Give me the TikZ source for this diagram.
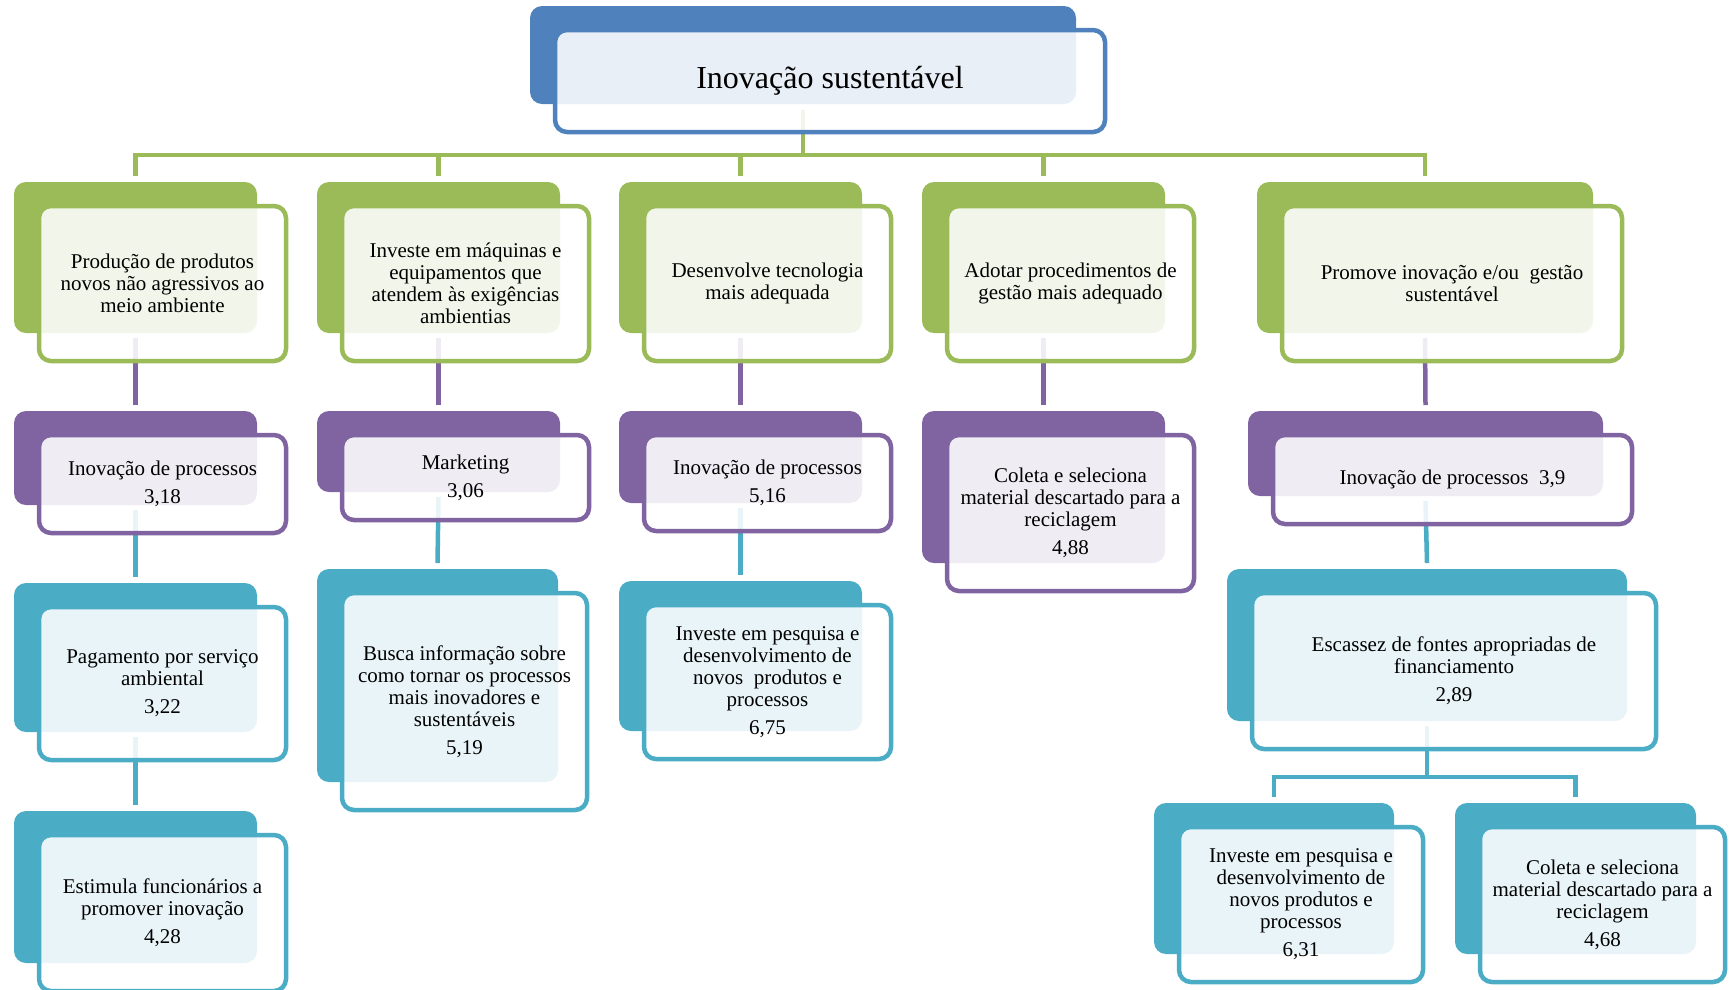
\documentclass[tikz,border=0pt]{standalone}
\usepackage{fontspec}
\setmainfont{Liberation Serif}
\pgfdeclarelayer{bg}
\pgfsetlayers{bg,main}
\definecolor{cblue}{HTML}{4F81BD}
\definecolor{cgreen}{HTML}{9BBB59}
\definecolor{cpurple}{HTML}{8064A2}
\definecolor{cteal}{HTML}{4BACC6}
\tikzset{
  backbox/.style={fill=#1, draw=none, rounded corners=12pt, inner sep=0pt, outer sep=0pt},
  frontbox/.style={draw=#1, line width=4.5pt, fill=white, fill opacity=0.88, text opacity=1,
    rounded corners=12pt, inner sep=0pt, outer sep=0pt, align=center,
    font=\fontsize{21}{22}\selectfont},
  conn/.style={draw=#1, line width=4.5pt, line join=miter}
}
% name, x1, y1, x2, y2, colour, text
\newcommand\twobox[7]{%
  \node[backbox=#6, minimum width={(#4)-(#2)}, minimum height={(#5)-(#3)}]
    (#1b) at ({((#2)+(#4))/2},{((#3)+(#5))/2}) {};
  \node[frontbox=#6, minimum width={(#4)-(#2)+4}, minimum height={(#5)-(#3)+4}]
    (#1) at ({((#2)+(#4))/2+27},{((#3)+(#5))/2+26}) {#7};
}
\begin{document}
\begin{tikzpicture}[x=1pt,y=-1pt]
\useasboundingbox (0,0) rectangle (1731,989);

\twobox{top}{530}{6}{1076}{104}{cblue}{\fontsize{32}{36}\selectfont Inovação sustentável}

\twobox{g1}{14}{182}{257}{333}{cgreen}{Produção de produtos\\novos não agressivos ao\\meio ambiente}
\twobox{g2}{317}{182}{560}{333}{cgreen}{Investe em máquinas e\\equipamentos que\\atendem às exigências\\ambientias}
\twobox{g3}{619}{182}{862}{333}{cgreen}{Desenvolve tecnologia\\mais adequada}
\twobox{g4}{922}{182}{1165}{333}{cgreen}{Adotar procedimentos de\\gestão mais adequado}
\twobox{g5}{1257}{182}{1593}{333}{cgreen}{Promove inovação e/ou\ \ gestão\\sustentável}

\twobox{p1}{14}{411}{257}{505}{cpurple}{Inovação de processos\\[6pt]3,18}
\twobox{p2}{317}{411}{560}{492}{cpurple}{Marketing\\[6pt]3,06}
\twobox{p3}{619}{411}{862}{503}{cpurple}{Inovação de processos\\[6pt]5,16}
\twobox{p4}{922}{411}{1165}{563}{cpurple}{Coleta e seleciona\\material descartado para a\\reciclagem\\[6pt]4,88}
\twobox{p5}{1248}{411}{1603}{496}{cpurple}{Inovação de processos\ \ 3,9}

\twobox{t1}{14}{583}{257}{732}{cteal}{Pagamento por serviço\\ambiental\\[6pt]3,22}
\twobox{t2}{317}{569}{558}{782}{cteal}{Busca informação sobre\\como tornar os processos\\mais inovadores e\\sustentáveis\\[6pt]5,19}
\twobox{t3}{619}{581}{862}{731}{cteal}{Investe em pesquisa e\\desenvolvimento de\\novos\ \ produtos e\\processos\\[6pt]6,75}
\twobox{t5}{1227}{569}{1627}{721}{cteal}{Escassez de fontes apropriadas de\\financiamento\\[6pt]2,89}

\twobox{u1}{14}{811}{257}{963}{cteal}{Estimula funcionários a\\promover inovação\\[6pt]4,28}
\twobox{ua}{1154}{803}{1394}{954}{cteal}{Investe em pesquisa e\\desenvolvimento de\\novos produtos e\\processos\\[6pt]6,31}
\twobox{uc}{1455}{803}{1696}{954}{cteal}{Coleta e seleciona\\material descartado para a\\reciclagem\\[6pt]4,68}

\begin{pgfonlayer}{bg}
\coordinate (busg) at (0,155);
\draw[conn=cgreen] ([yshift=-6pt]topb.south) -- (topb.south |- busg);
\draw[conn=cgreen] ([yshift=6pt]g1b.north) |- (g5b.north |- busg) -- ([yshift=6pt]g5b.north);
\foreach \n in {g2,g3,g4} {\draw[conn=cgreen] ([yshift=6pt]\n b.north) -- (\n b.north |- busg);}

\draw[conn=cpurple] ([yshift=-5pt]g1b.south) -- ([yshift=6pt]p1b.north);
\draw[conn=cpurple] ([yshift=-5pt]g2b.south) -- ([yshift=6pt]p2b.north);
\draw[conn=cpurple] ([yshift=-5pt]g3b.south) -- ([yshift=6pt]p3b.north);
\draw[conn=cpurple] ([yshift=-5pt]g4b.south) -- ([yshift=6pt]p4b.north);
\draw[conn=cpurple] ([yshift=-5pt]g5b.south) -- ([yshift=6pt]p5b.north);

\draw[conn=cteal] ([yshift=-5pt]p1b.south) -- ([yshift=6pt]t1b.north);
\draw[conn=cteal] ([yshift=-5pt]t1b.south) -- ([yshift=6pt]u1b.north);
\draw[conn=cteal] ([yshift=-5pt]p2b.south) -- ([yshift=6pt]t2b.north);
\draw[conn=cteal] ([yshift=-5pt]p3b.south) -- ([yshift=6pt]t3b.north);
\draw[conn=cteal] ([yshift=-5pt]p5b.south) -- ([yshift=6pt]t5b.north);

\coordinate (bust) at (0,777);
\draw[conn=cteal] ([yshift=-5pt]t5b.south) -- (t5b.south |- bust);
\draw[conn=cteal] ([yshift=6pt]uab.north) |- (ucb.north |- bust) -- ([yshift=6pt]ucb.north);
\end{pgfonlayer}
\end{tikzpicture}
\end{document}
